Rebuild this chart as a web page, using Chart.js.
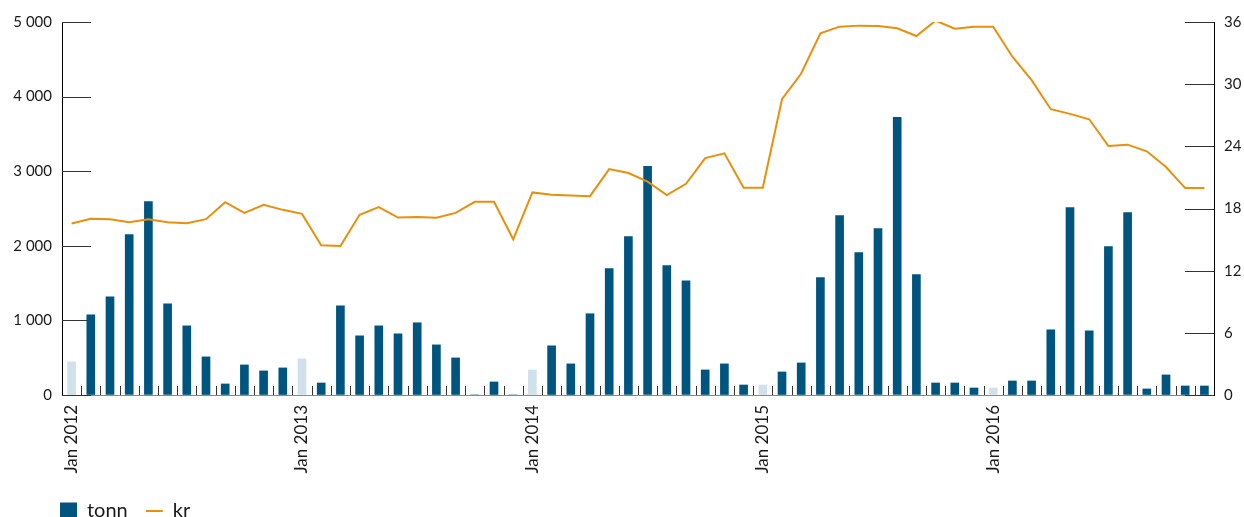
<!DOCTYPE html>
<html>
<head>
<meta charset="utf-8">
<script src="https://cdn.jsdelivr.net/npm/chart.js@4/dist/chart.umd.min.js"></script>
<style>
  body { margin: 0; background: #fff; }
  #wrap { width: 1244px; height: 517px; }
</style>
</head>
<body>
<div id="wrap"><canvas id="chart"></canvas></div>
<script>
const years = [2012, 2013, 2014, 2015, 2016];
const monthNames = ["Jan", "Feb", "Mar", "Apr", "May", "Jun", "Jul", "Aug", "Sep", "Oct", "Nov", "Dec"];

// tonn (left axis)
const tonn = [
  443, 1075, 1317, 2150, 2594, 1223, 927, 511, 148, 403, 323, 363,
  484, 161, 1196, 793, 927, 820, 968, 672, 497, 0, 175, 0,
  336, 659, 417, 1089, 1694, 2124, 3065, 1734, 1532, 336, 417, 134,
  134, 309, 430, 1573, 2406, 1909, 2231, 3723, 1613, 161, 161, 94,
  94, 188, 188, 874, 2513, 860, 1989, 2446, 81, 269, 121, 121
];

// kr (right axis)
const kr = [
  16.55, 17.0, 16.97, 16.68, 16.97, 16.68, 16.58, 16.97, 18.61, 17.58, 18.36, 17.87,
  17.48, 14.45, 14.39, 17.39, 18.13, 17.13, 17.19, 17.1, 17.58, 18.65, 18.65, 15.03,
  19.55, 19.32, 19.26, 19.19, 21.8, 21.42, 20.6, 19.29, 20.39, 22.87, 23.32, 20.0,
  20.0, 28.55, 31.03, 34.9, 35.55, 35.65, 35.61, 35.39, 34.65, 36.13, 35.36, 35.55,
  35.55, 32.65, 30.39, 27.58, 27.13, 26.61, 24.03, 24.16, 23.52, 22.0, 19.97, 19.97
];

const leftTicks = [0, 1000, 2000, 3000, 4000, 5000];
const rightTicks = [0, 6, 12, 18, 24, 30, 36];

const months = [];
years.forEach(y => monthNames.forEach(m => months.push(m + " " + y)));

const darkBlue = "#00557f";
const lightBlue = "#d0e1ec";
const orange = "#e8900c";
const textColor = "#1a1a1a";
const fontFamily = "Lato, 'Open Sans', sans-serif";

function spaced(v) {
    return String(v).replace(/\B(?=(\d{3})+(?!\d))/g, " ");
}

// short tick marks drawn inward from the axes
const innerTicks = {
    id: "innerTicks",
    afterLayout(chart) {
        // line the legend up under the left axis
        chart.legend.left = chart.chartArea.left - 20;
    },
    beforeDatasetsDraw(chart) {
        const ctx = chart.ctx;
        const area = chart.chartArea;
        const x = chart.scales.x;
        const yl = chart.scales.y;
        const yr = chart.scales.y1;
        ctx.save();
        ctx.lineWidth = 1;
        ctx.strokeStyle = "#333";
        ctx.beginPath();
        yl.ticks.forEach(t => {
            const py = Math.round(yl.getPixelForValue(t.value)) + 0.5;
            ctx.moveTo(area.left, py);
            ctx.lineTo(area.left + 29, py);
        });
        yr.ticks.forEach(t => {
            const py = Math.round(yr.getPixelForValue(t.value)) + 0.5;
            ctx.moveTo(area.right - 29, py);
            ctx.lineTo(area.right, py);
        });
        const n = months.length;
        const step = (x.right - x.left) / n;
        for (let i = 1; i < n; i++) {
            const px = Math.round(x.left + i * step) + 0.5;
            ctx.moveTo(px, area.bottom - 9);
            ctx.lineTo(px, area.bottom);
        }
        ctx.stroke();
        ctx.restore();
    }
};

const ctx = document.getElementById("chart").getContext("2d");

new Chart(ctx, {
    type: "bar",
    data: {
        labels: months,
        datasets: [
            {
                type: "line",
                label: "kr",
                data: kr,
                yAxisID: "y1",
                borderColor: orange,
                backgroundColor: orange,
                borderWidth: 2,
                pointRadius: 0,
                tension: 0,
                pointStyle: "line",
                order: 0
            },
            {
                type: "bar",
                label: "tonn",
                data: tonn,
                yAxisID: "y",
                backgroundColor: months.map(m => m.startsWith("Jan") ? lightBlue : darkBlue),
                barThickness: 8,
                pointStyle: "rect",
                order: 1
            }
        ]
    },
    options: {
        responsive: true,
        maintainAspectRatio: false,
        animation: false,
        layout: { padding: { left: 0, right: 0, top: 22, bottom: -14 } },
        plugins: {
            tooltip: { enabled: false },
            legend: {
                position: "bottom",
                align: "start",
                reverse: true,
                labels: {
                    usePointStyle: true,
                    pointStyleWidth: 17,
                    boxHeight: 17,
                    padding: 18,
                    color: textColor,
                    font: { family: fontFamily, size: 20 },
                    generateLabels: chart => {
                        const items = Chart.defaults.plugins.legend.labels.generateLabels(chart);
                        items.forEach(it => {
                            if (it.text === "tonn") {
                                it.fillStyle = darkBlue;
                                it.strokeStyle = darkBlue;
                                it.lineWidth = 0;
                            }
                        });
                        return items;
                    }
                }
            }
        },
        scales: {
            x: {
                grid: { display: true, drawOnChartArea: false, drawTicks: false },
                border: { display: true, color: "#8a8a8a", width: 1 },
                ticks: {
                    autoSkip: false,
                    minRotation: 90,
                    maxRotation: 90,
                    padding: 10,
                    color: textColor,
                    font: { family: fontFamily, size: 17 },
                    callback: (v, i) => i % 12 === 0 ? months[i] : ""
                },
                afterFit: s => { s.height = 88; }
            },
            y: {
                position: "left",
                min: 0,
                max: 5000,
                afterBuildTicks: s => { s.ticks = leftTicks.map(v => ({ value: v })); },
                grid: { display: true, drawOnChartArea: false, drawTicks: false },
                border: { display: true, color: "#000", width: 1 },
                ticks: {
                    padding: 10,
                    color: textColor,
                    font: { family: fontFamily, size: 15 },
                    callback: v => spaced(v)
                },
                afterFit: s => { s.width = 62; }
            },
            y1: {
                position: "right",
                min: 0,
                max: 36,
                afterBuildTicks: s => { s.ticks = rightTicks.map(v => ({ value: v })); },
                grid: { display: true, drawOnChartArea: false, drawTicks: false },
                border: { display: true, color: "#000", width: 1 },
                ticks: {
                    padding: 10,
                    color: textColor,
                    font: { family: fontFamily, size: 15 }
                },
                afterFit: s => { s.width = 30; }
            }
        }
    },
    plugins: [innerTicks]
});
</script>
</body>
</html>
